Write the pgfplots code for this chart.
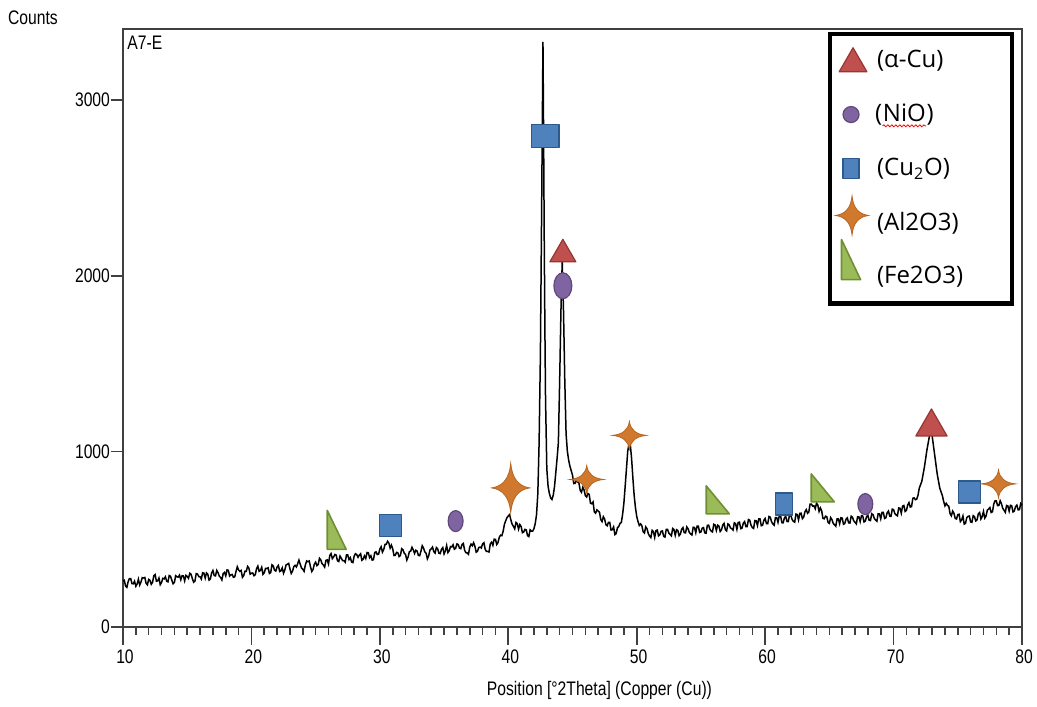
\documentclass[border=0pt]{standalone}
\usepackage{graphicx}
\usepackage{pgfplots}
\pgfplotsset{compat=1.18}
\usepackage{fontspec}
\setmainfont{Liberation Sans}
\newfontfamily\legfont{Open Sans}
\usetikzlibrary{decorations.pathmorphing}

\definecolor{triF}{HTML}{C0504D}\definecolor{triD}{HTML}{943634}
\definecolor{niF}{HTML}{8064A2}\definecolor{niD}{HTML}{5F497A}
\definecolor{cuF}{HTML}{4F81BD}\definecolor{cuD}{HTML}{2C5A8C}
\definecolor{alF}{HTML}{D0782E}\definecolor{alD}{HTML}{B8661F}
\definecolor{feF}{HTML}{9BBB59}\definecolor{feD}{HTML}{6F8F35}

\pgfdeclareplotmark{star4}{%
  \pgfpathmoveto{\pgfqpoint{0pt}{\pgfplotmarksize}}%
  \pgfpathquadraticcurveto{\pgfqpoint{0.1\pgfplotmarksize}{0.1\pgfplotmarksize}}{\pgfqpoint{\pgfplotmarksize}{0pt}}%
  \pgfpathquadraticcurveto{\pgfqpoint{0.1\pgfplotmarksize}{-0.1\pgfplotmarksize}}{\pgfqpoint{0pt}{-\pgfplotmarksize}}%
  \pgfpathquadraticcurveto{\pgfqpoint{-0.1\pgfplotmarksize}{-0.1\pgfplotmarksize}}{\pgfqpoint{-\pgfplotmarksize}{0pt}}%
  \pgfpathquadraticcurveto{\pgfqpoint{-0.1\pgfplotmarksize}{0.1\pgfplotmarksize}}{\pgfqpoint{0pt}{\pgfplotmarksize}}%
  \pgfpathclose\pgfusepathqfillstroke}
\pgfdeclareplotmark{wedge}{%
  \pgfpathmoveto{\pgfqpoint{-0.5\pgfplotmarksize}{\pgfplotmarksize}}%
  \pgfpathlineto{\pgfqpoint{-0.5\pgfplotmarksize}{-\pgfplotmarksize}}%
  \pgfpathlineto{\pgfqpoint{0.5\pgfplotmarksize}{-\pgfplotmarksize}}%
  \pgfpathclose\pgfusepathqfillstroke}

\newcommand{\wavy}[1]{\tikz[baseline=(w.base)]{\node[inner sep=0pt, text width={}, text height={}, text depth={}, align=none] (w) {#1};
  \draw[red, line width=0.4pt, decorate, decoration={snake, amplitude=0.5pt, segment length=2pt}] ([yshift=-2pt]w.base west) -- ([yshift=-2pt]w.base east);}}
\newcommand{\legent}[1]{\makebox[62pt][l]{#1}}
\newcommand{\tf}{\fontsize{9.8}{11}\selectfont}

\begin{document}
\begin{tikzpicture}
\useasboundingbox (0,0) rectangle (518.5pt,353pt);
\begin{axis}[
  at={(61.5pt,39.5pt)}, anchor=south west,
  scale only axis, width=449.5pt, height=299pt,
  xmin=10, xmax=80, ymin=0, ymax=3405,
  xtick={10,20,30,40,50,60,70,80},
  minor x tick num=9,
  ytick={0,1000,2000,3000},
  tick align=outside,
  xtick pos=bottom, ytick pos=left,
  major tick length=6pt, minor tick length=4pt,
  tick style={black!75, line width=0.8pt},
  axis line style={black!75, line width=1pt},
  tick label style={font=\tf},
  xticklabel style={yshift=-2pt, xshift=1pt},
  yticklabel style={xshift=3pt},
  /pgf/number format/assume math mode=true,
  /pgf/number format/set thousands separator={},
  xticklabel={\scalebox{0.8}[1]{\pgfmathprintnumber{\tick}}},
  yticklabel={\scalebox{0.8}[1]{\pgfmathprintnumber{\tick}}},
  xlabel={\scalebox{0.8}[1]{Position [°2Theta] (Copper (Cu))}},
  xlabel style={font=\tf, at={(axis description cs:0.53,0)}, anchor=center, yshift=-31.5pt},
  clip=false,
  legend cell align=left,
  legend style={
    at={(0.9916,0.9957)}, anchor=north east,
    draw=black, line width=2.4pt,
    inner xsep=3.5pt, inner ysep=6.3pt,
    row sep=12.65pt,
    font=\legfont\fontsize{12}{14}\selectfont,
    /tikz/every odd column/.append style={column sep=2pt},
  },
]
\addplot[black, line width=0.75pt, forget plot] coordinates {
(10.0,262)(10.1,266)(10.2,233)(10.3,226)(10.4,258)(10.5,276)(10.6,276)(10.7,247)(10.8,246)(10.9,261)
(11.0,232)(11.1,245)(11.2,272)(11.3,239)(11.4,256)(11.5,281)(11.6,279)(11.7,282)(11.8,248)(11.9,240)
(12.0,271)(12.1,266)(12.2,243)(12.3,254)(12.4,292)(12.5,299)(12.6,261)(12.7,263)(12.8,279)(12.9,241)
(13.0,253)(13.1,277)(13.2,274)(13.3,286)(13.4,261)(13.5,257)(13.6,293)(13.7,289)(13.8,267)(13.9,246)
(14.0,253)(14.1,292)(14.2,286)(14.3,284)(14.4,295)(14.5,269)(14.6,292)(14.7,291)(14.8,263)(14.9,294)
(15.0,288)(15.1,277)(15.2,306)(15.3,300)(15.4,276)(15.5,255)(15.6,261)(15.7,304)(15.8,302)(15.9,287)
(16.0,286)(16.1,273)(16.2,309)(16.3,307)(16.4,278)(16.5,308)(16.6,301)(16.7,267)(16.8,273)(16.9,307)
(17.0,322)(17.1,293)(17.2,291)(17.3,322)(17.4,309)(17.5,289)(17.6,282)(17.7,268)(17.8,304)(17.9,311)
(18.0,291)(18.1,325)(18.2,323)(18.3,290)(18.4,297)(18.5,299)(18.6,283)(18.7,286)(18.8,316)(18.9,343)
(19.0,325)(19.1,317)(19.2,322)(19.3,283)(19.4,293)(19.5,318)(19.6,317)(19.7,345)(19.8,336)(19.9,301)
(20.0,306)(20.1,308)(20.2,292)(20.3,298)(20.4,332)(20.5,347)(20.6,317)(20.7,322)(20.8,340)(20.9,300)
(21.0,309)(21.1,334)(21.2,333)(21.3,337)(21.4,305)(21.5,310)(21.6,354)(21.7,348)(21.8,323)(21.9,319)
(22.0,342)(22.1,351)(22.2,316)(22.3,320)(22.4,337)(22.5,306)(22.6,325)(22.7,354)(22.8,357)(22.9,362)
(23.0,331)(23.1,305)(23.2,318)(23.3,344)(23.4,351)(23.5,342)(23.6,360)(23.7,381)(23.8,357)(23.9,336)
(24.0,329)(24.1,317)(24.2,354)(24.3,376)(24.4,372)(24.5,376)(24.6,343)(24.7,316)(24.8,328)(24.9,358)
(25.0,369)(25.1,349)(25.2,356)(25.3,391)(25.4,382)(25.5,361)(25.6,353)(25.7,341)(25.8,379)(25.9,382)
(26.0,359)(26.1,407)(26.2,418)(26.3,389)(26.4,399)(26.5,413)(26.6,409)(26.7,377)(26.8,373)(26.9,404)
(27.0,391)(27.1,378)(27.2,378)(27.3,369)(27.4,410)(27.5,410)(27.6,384)(27.7,395)(27.8,370)(27.9,367)
(28.0,404)(28.1,417)(28.2,412)(28.3,397)(28.4,409)(28.5,417)(28.6,380)(28.7,386)(28.8,405)(28.9,390)
(29.0,424)(29.1,423)(29.2,395)(29.3,406)(29.4,381)(29.5,383)(29.6,424)(29.7,428)(29.8,413)(29.9,415)
(30.0,444)(30.1,457)(30.2,426)(30.3,441)(30.4,470)(30.5,472)(30.6,488)(30.7,478)(30.8,449)(30.9,466)
(31.0,446)(31.1,407)(31.2,408)(31.3,425)(31.4,423)(31.5,401)(31.6,407)(31.7,446)(31.8,440)(31.9,420)
(32.0,413)(32.1,381)(32.2,399)(32.3,429)(32.4,432)(32.5,454)(32.6,440)(32.7,419)(32.8,437)(32.9,432)
(33.0,408)(33.1,406)(33.2,432)(33.3,463)(33.4,450)(33.5,428)(33.6,420)(33.7,388)(33.8,405)(33.9,438)
(34.0,445)(34.1,455)(34.2,429)(34.3,421)(34.4,452)(34.5,445)(34.6,420)(34.7,418)(34.8,443)(34.9,452)
(35.0,416)(35.1,433)(35.2,464)(35.3,424)(35.4,434)(35.5,458)(35.6,456)(35.7,468)(35.8,443)(35.9,448)
(36.0,473)(36.1,470)(36.2,449)(36.3,446)(36.4,470)(36.5,476)(36.6,437)(36.7,423)(36.8,422)(36.9,414)
(37.0,455)(37.1,472)(37.2,463)(37.3,480)(37.4,460)(37.5,426)(37.6,431)(37.7,452)(37.8,455)(37.9,450)
(38.0,473)(38.1,480)(38.2,443)(38.3,430)(38.4,430)(38.5,427)(38.6,474)(38.7,483)(38.8,465)(38.9,500)
(39.0,499)(39.1,470)(39.2,481)(39.3,511)(39.4,523)(39.5,520)(39.6,545)(39.7,585)(39.8,605)(39.9,623)
(40.0,632)(40.1,640)(40.2,610)(40.3,585)(40.4,573)(40.5,559)(40.6,595)(40.7,589)(40.8,557)(40.9,583)
(41.0,572)(41.1,537)(41.2,541)(41.3,556)(41.4,553)(41.5,520)(41.6,515)(41.7,553)(41.8,546)(41.9,546)
(42.0,560)(42.1,590)(42.2,640)(42.3,760)(42.4,1050)(42.5,1550)(42.6,2400)(42.7,3332)(42.75,2800)(42.8,2200)
(42.85,1700)(42.9,1300)(43.0,900)(43.1,800)(43.2,760)(43.3,735)(43.4,726)(43.5,750)(43.6,800)(43.7,880)
(43.8,960)(43.9,1050)(44.0,1400)(44.1,1800)(44.2,2080)(44.3,1800)(44.4,1400)(44.5,1100)(44.6,1000)(44.7,950)
(44.8,915)(44.9,890)(45.0,865)(45.1,817)(45.2,818)(45.3,835)(45.4,826)(45.5,820)(45.6,778)(45.7,767)
(45.8,795)(45.9,781)(46.0,748)(46.1,740)(46.2,760)(46.3,755)(46.4,705)(46.5,702)(46.6,712)(46.7,655)
(46.8,648)(46.9,667)(47.0,660)(47.1,654)(47.2,612)(47.3,600)(47.4,628)(47.5,615)(47.6,583)(47.7,576)
(47.8,596)(47.9,596)(48.0,552)(48.1,554)(48.2,570)(48.3,526)(48.4,532)(48.5,565)(48.6,572)(48.7,590)
(48.8,595)(48.9,640)(49.0,705)(49.1,800)(49.2,900)(49.3,1000)(49.4,1045)(49.5,1040)(49.6,960)(49.7,850)
(49.8,750)(49.9,680)(50.0,630)(50.1,600)(50.2,578)(50.3,587)(50.4,577)(50.5,542)(50.6,535)(50.7,570)
(50.8,560)(50.9,532)(51.0,518)(51.1,509)(51.2,550)(51.3,543)(51.4,510)(51.5,549)(51.6,552)(51.7,519)
(51.8,525)(51.9,545)(52.0,547)(52.1,516)(52.2,512)(52.3,556)(52.4,556)(52.5,535)(52.6,527)(52.7,519)
(52.8,561)(52.9,555)(53.0,522)(53.1,554)(53.2,550)(53.3,520)(53.4,529)(53.5,557)(53.6,566)(53.7,537)
(53.8,536)(53.9,570)(54.0,559)(54.1,538)(54.2,530)(54.3,524)(54.4,568)(54.5,566)(54.6,537)(54.7,574)
(54.8,574)(54.9,538)(55.0,541)(55.1,563)(55.2,566)(55.3,536)(55.4,534)(55.5,579)(55.6,580)(55.7,556)
(55.8,546)(55.9,541)(56.0,585)(56.1,581)(56.2,550)(56.3,580)(56.4,574)(56.5,544)(56.6,553)(56.7,581)
(56.8,590)(56.9,555)(57.0,547)(57.1,587)(57.2,582)(57.3,564)(57.4,560)(57.5,552)(57.6,593)(57.7,588)
(57.8,556)(57.9,595)(58.0,597)(58.1,560)(58.2,563)(58.3,591)(58.4,600)(58.5,572)(58.6,572)(58.7,612)
(58.8,608)(58.9,580)(59.0,566)(59.1,561)(59.2,606)(59.3,605)(59.4,578)(59.5,615)(59.6,615)(59.7,577)
(59.8,579)(59.9,608)(60.0,618)(60.1,589)(60.2,588)(60.3,629)(60.4,625)(60.5,599)(60.6,587)(60.7,580)
(60.8,623)(60.9,623)(61.0,596)(61.1,633)(61.2,634)(61.3,594)(61.4,593)(61.5,621)(61.6,630)(61.7,601)
(61.8,600)(61.9,640)(62.0,636)(62.1,612)(62.2,601)(62.3,597)(62.4,643)(62.5,640)(62.6,610)(62.7,647)
(62.8,648)(62.9,617)(63.0,626)(63.1,656)(63.2,668)(63.3,648)(63.4,655)(63.5,700)(63.6,700)(63.7,688)
(63.8,690)(63.9,673)(64.0,705)(64.1,695)(64.2,658)(64.3,678)(64.4,662)(64.5,619)(64.6,616)(64.7,631)
(64.8,628)(64.9,595)(65.0,590)(65.1,623)(65.2,612)(65.3,590)(65.4,582)(65.5,574)(65.6,615)(65.7,615)
(65.8,588)(65.9,622)(66.0,620)(66.1,585)(66.2,589)(66.3,614)(66.4,621)(66.5,593)(66.6,592)(66.7,631)
(66.8,625)(66.9,604)(67.0,596)(67.1,587)(67.2,628)(67.3,627)(67.4,600)(67.5,634)(67.6,632)(67.7,598)
(67.8,603)(67.9,629)(68.0,636)(68.1,607)(68.2,606)(68.3,645)(68.4,640)(68.5,618)(68.6,609)(68.7,602)
(68.8,645)(68.9,644)(69.0,616)(69.1,653)(69.2,653)(69.3,618)(69.4,622)(69.5,650)(69.6,660)(69.7,631)
(69.8,630)(69.9,671)(70.0,668)(70.1,646)(70.2,638)(70.3,633)(70.4,678)(70.5,676)(70.6,648)(70.7,688)
(70.8,692)(70.9,658)(71.0,664)(71.1,695)(71.2,708)(71.3,683)(71.4,686)(71.5,733)(71.6,735)(71.7,725)
(71.8,728)(71.9,749)(72.0,790)(72.2,830)(72.4,910)(72.6,1010)(72.8,1090)(72.9,1110)(73.0,1090)(73.2,980)
(73.4,870)(73.6,790)(73.8,748)(73.9,715)(74.0,690)(74.1,704)(74.2,692)(74.3,687)(74.4,645)(74.5,633)
(74.6,660)(74.7,648)(74.8,618)(74.9,615)(75.0,640)(75.1,642)(75.2,600)(75.3,609)(75.4,632)(75.5,586)
(75.6,590)(75.7,623)(75.8,630)(75.9,632)(76.0,598)(76.1,596)(76.2,634)(76.3,628)(76.4,604)(76.5,610)
(76.6,645)(76.7,652)(76.8,615)(76.9,629)(77.0,658)(77.1,620)(77.2,632)(77.3,665)(77.4,672)(77.5,680)
(77.6,652)(77.7,656)(77.8,700)(77.9,718)(78.0,718)(78.1,691)(78.2,692)(78.3,719)(78.4,702)(78.5,676)
(78.6,665)(78.7,653)(78.8,692)(78.9,689)(79.0,660)(79.1,693)(79.2,690)(79.3,655)(79.4,660)(79.5,686)
(79.6,694)(79.7,667)(79.8,668)(79.9,703)(80.0,694)
};

% alpha-Cu
\addplot[only marks, mark=triangle*, mark size=7.5pt,
  mark options={fill=triF, draw=triD, line width=0.6pt, line join=round},
  legend image code/.code={\path[draw=none, fill=none] (0pt,-5pt) rectangle (15pt,5pt);
    \draw[overlay] plot[only marks, mark=triangle*, mark size=8pt, mark options={fill=triF, draw=triD, line width=0.6pt, line join=round}] coordinates {(8pt,-1.5pt)};}
  ] coordinates {(44.25,2122)};
\addlegendentry{\legent{(α-Cu)}}
\addplot[forget plot, only marks, mark=triangle*, mark size=9pt,
  mark options={fill=triF, draw=triD, line width=0.6pt, line join=round}] coordinates {(72.95,1139)};

% NiO
\addplot[only marks, mark=*, mark size=5.25pt,
  mark options={xscale=0.71, fill=niF, draw=niD, line width=0.6pt},
  legend image code/.code={\path[draw=none, fill=none] (0pt,-5pt) rectangle (15pt,5pt);
    \draw[overlay, fill=niF, draw=niD, line width=0.6pt] (7pt,0pt) circle (4pt);}
  ] coordinates {(35.9,603) (67.8,700)};
\addlegendentry{\legent{(\wavy{NiO})}}
\addplot[forget plot, only marks, mark=*, mark size=6.5pt,
  mark options={xscale=0.69, fill=niF, draw=niD, line width=0.6pt}] coordinates {(44.25,1943)};

% Cu2O
\addplot[only marks, mark=square*, mark size=5.5pt,
  mark options={fill=cuF, draw=cuD, line width=0.8pt, line join=round},
  legend image code/.code={\path[draw=none, fill=none] (0pt,-5pt) rectangle (15pt,5pt);
    \draw[overlay] plot[only marks, mark=square*, mark size=5pt, mark options={xscale=0.8, fill=cuF, draw=cuD, line width=0.8pt, line join=round}] coordinates {(7pt,0pt)};}
  ] coordinates {(30.83,577) (75.91,770)};
\addlegendentry{\legent{(Cu\textsubscript{2}O)}}
\addplot[forget plot, only marks, mark=square*, mark size=5.75pt,
  mark options={xscale=1.2, fill=cuF, draw=cuD, line width=0.8pt, line join=round}] coordinates {(42.89,2796)};
\addplot[forget plot, only marks, mark=square*, mark size=5.5pt,
  mark options={xscale=0.77, fill=cuF, draw=cuD, line width=0.8pt, line join=round}] coordinates {(61.48,701)};

% Al2O3
\addplot[only marks, mark=star4, mark size=8.5pt,
  mark options={yscale=0.82, fill=alF, draw=alD, line width=0.4pt},
  legend image code/.code={\path[draw=none, fill=none] (0pt,-5pt) rectangle (15pt,5pt);
    \draw[overlay] plot[only marks, mark=star4, mark size=8.25pt, mark options={yscale=1.18, fill=alF, draw=alD, line width=0.4pt}] coordinates {(7.5pt,3.5pt)};}
  ] coordinates {(46.11,840) (49.43,1091) (78.17,815)};
\addlegendentry{\legent{(Al2O3)}}
\addplot[forget plot, only marks, mark=star4, mark size=9.5pt,
  mark options={yscale=1.3, fill=alF, draw=alD, line width=0.4pt}] coordinates {(40.19,792)};

% Fe2O3
\addplot[only marks, mark=wedge, mark size=7pt,
  mark options={xscale=1.65, fill=feF, draw=feD, line width=0.8pt, line join=round},
  legend image code/.code={\path[draw=none, fill=none] (0pt,-5pt) rectangle (15pt,5pt);
    \draw[overlay] plot[only marks, mark=wedge, mark size=10pt, mark options={xscale=0.95, fill=feF, draw=feD, line width=0.8pt, line join=round}] coordinates {(7pt,8.5pt)};}
  ] coordinates {(56.31,724) (64.49,792)};
\addlegendentry{\legent{(Fe2O3)}}
\addplot[forget plot, only marks, mark=wedge, mark size=9.75pt,
  mark options={xscale=0.97, fill=feF, draw=feD, line width=0.8pt, line join=round}] coordinates {(26.64,553)};

\pgfplotsinvokeforeach{10,20,30,40,50,60,70,80}{
  \draw[black!75, line width=0.8pt] (axis cs:#1,0) -- ([yshift=-9pt]axis cs:#1,0);
}
\node[anchor=center, inner sep=0pt, font=\tf] at ([xshift=-45pt,yshift=5.75pt]rel axis cs:0,1) {\scalebox{0.8}[1]{Counts}};
\node[anchor=west, inner sep=0pt, font=\tf] at ([xshift=2pt,yshift=-7pt]rel axis cs:0,1) {\scalebox{0.8}[1]{A7-E}};
\end{axis}
\end{tikzpicture}
\end{document}
